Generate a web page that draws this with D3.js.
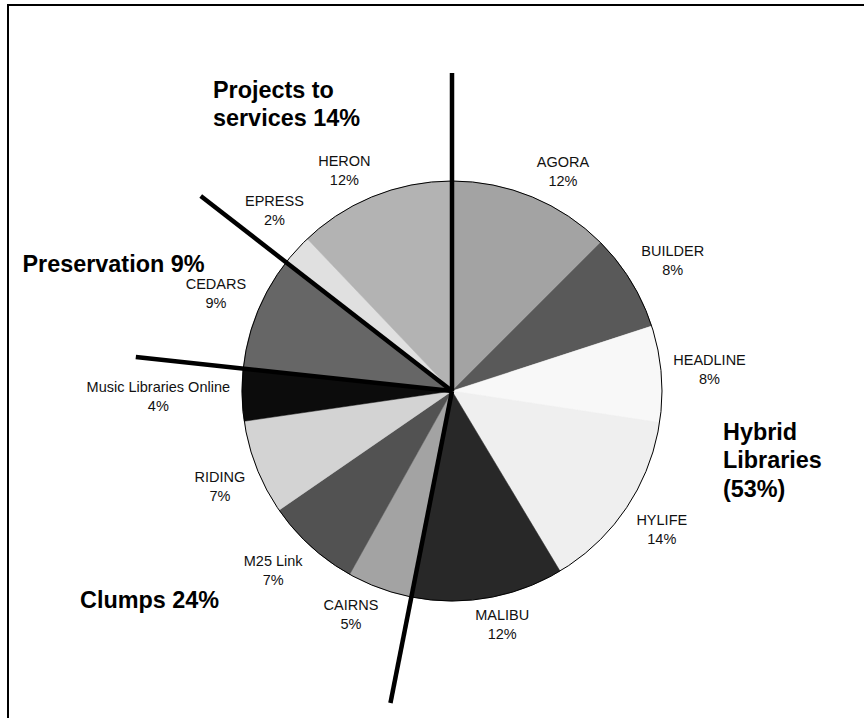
<!DOCTYPE html>
<html>
<head>
<meta charset="utf-8">
<script src="https://cdn.jsdelivr.net/npm/d3@7/dist/d3.min.js"></script>
<style>
  html, body { margin: 0; padding: 0; background: #fff; }
  svg { display: block; }
</style>
</head>
<body>
<svg id="chart" width="864" height="718"></svg>
<script>
// ---- data ----
const projects = ["AGORA", "BUILDER", "HEADLINE", "HYLIFE", "MALIBU", "CAIRNS",
  "M25 Link", "RIDING", "Music Libraries Online", "CEDARS", "EPRESS", "HERON"];
const shares = [12.5, 7.5, 7.4, 14, 11.7, 5, 7.3, 7.3, 4, 8.8, 2.4, 12.1];
const shareLabels = ["12%", "8%", "8%", "14%", "12%", "5%", "7%", "7%", "4%", "9%", "2%", "12%"];
const projectGroup = ["Hybrid", "Hybrid", "Hybrid", "Hybrid", "Hybrid", "Clumps",
  "Clumps", "Clumps", "Clumps", "Preservation", "Projects", "Projects"];
const groupNames = ["Projects", "Preservation", "Hybrid", "Clumps"];
const groupTitles = [["Projects to", "services 14%"], ["Preservation 9%"],
  ["Hybrid", "Libraries", "(53%)"], ["Clumps 24%"]];

// ---- styles / layout ----
const fills = ["#a3a3a3", "#595959", "#f8f8f8", "#efefef", "#282828", "#a3a3a3",
  "#525252", "#d3d3d3", "#0c0c0c", "#666666", "#e0e0e0", "#b3b3b3"];
const cx = 452, cy = 391, R = 210;
const titleLayout = {
  Projects: { x: 213, y: 97.5 },
  Preservation: { x: 22.5, y: 271.7 },
  Hybrid: { x: 723, y: 440 },
  Clumps: { x: 80, y: 608.3 }
};

const svg = d3.select("#chart");

// frame
svg.append("rect").attr("x", 8).attr("y", 5).attr("width", 1000).attr("height", 1000)
  .attr("fill", "none").attr("stroke", "#000").attr("stroke-width", 2);

const pie = d3.pie().sort(null).value(d => d)(shares);
const arc = d3.arc().innerRadius(0).outerRadius(R);
const g = svg.append("g").attr("transform", `translate(${cx},${cy})`);

g.selectAll("path.slice").data(pie).enter().append("path")
  .attr("class", "slice")
  .attr("d", arc)
  .attr("fill", (d, i) => fills[i])
  .attr("stroke", (d, i) => fills[i])
  .attr("stroke-width", 0.5);

g.append("circle").attr("r", R).attr("fill", "none").attr("stroke", "#000").attr("stroke-width", 1);

// group divider lines at group boundaries
const pt = (a, r) => [r * Math.sin(a), -r * Math.cos(a)];
const dividers = [];
pie.forEach((d, i) => {
  const prev = (i - 1 + pie.length) % pie.length;
  if (projectGroup[i] !== projectGroup[prev]) dividers.push(d.startAngle);
});
const lineLen = 318;
g.selectAll("line.div").data(dividers).enter().append("line")
  .attr("class", "div")
  .attr("x1", 0).attr("y1", 0)
  .attr("x2", a => pt(a, lineLen)[0])
  .attr("y2", a => pt(a, lineLen)[1])
  .attr("stroke", "#000").attr("stroke-width", 4.5);

// slice labels (outside end, Excel-like placement, nudged off divider lines)
const fs = 14.5, lh = 19, boxH = 30, gap = 12, k = 2.6;
const clamp = v => Math.max(-1, Math.min(1, v));
function place(a, w) {
  const [px, py] = pt(a, R + gap);
  return [px + (w / 2) * clamp(k * Math.sin(a)), py - (boxH / 2) * clamp(k * Math.cos(a))];
}
function hitDivider(mx, my, w) {
  const pad = 3;
  for (const da of dividers) {
    for (let r = 0; r <= lineLen; r += 2) {
      const [x, y] = pt(da, r);
      if (x > mx - w / 2 - pad && x < mx + w / 2 + pad && y > my - boxH / 2 - pad && y < my + boxH / 2 + pad)
        return da;
    }
  }
  return null;
}
const norm = a => Math.atan2(Math.sin(a), Math.cos(a));
pie.forEach((d, i) => {
  let a = (d.startAngle + d.endAngle) / 2;
  const t = g.append("text")
    .attr("font-family", "'Liberation Sans', Arial, sans-serif")
    .attr("font-size", fs).attr("fill", "#111").attr("text-anchor", "middle");
  const t1 = t.append("tspan").text(projects[i]);
  const t2 = t.append("tspan").text(shareLabels[i]);
  const w = Math.max(t1.node().getComputedTextLength(), t2.node().getComputedTextLength());
  let [mx, my] = place(a, w);
  let hit = hitDivider(mx, my, w), steps = 0;
  while (hit !== null && steps < 60) {
    a += Math.sign(norm(a - hit)) * (0.5 * Math.PI / 180);
    [mx, my] = place(a, w);
    hit = hitDivider(mx, my, w);
    steps++;
  }
  t1.attr("x", mx).attr("y", my - lh / 2 + 5.2);
  t2.attr("x", mx).attr("y", my + lh / 2 + 5.2);
});

// group titles
groupNames.forEach((name, gi) => {
  const L = titleLayout[name];
  const t = svg.append("text")
    .attr("font-family", "'Liberation Sans', Arial, sans-serif")
    .attr("font-size", 23.4).attr("font-weight", "bold").attr("fill", "#000");
  groupTitles[gi].forEach((line, li) => {
    t.append("tspan").attr("x", L.x).attr("y", L.y + li * 28.3).text(line);
  });
});
</script>
</body>
</html>
